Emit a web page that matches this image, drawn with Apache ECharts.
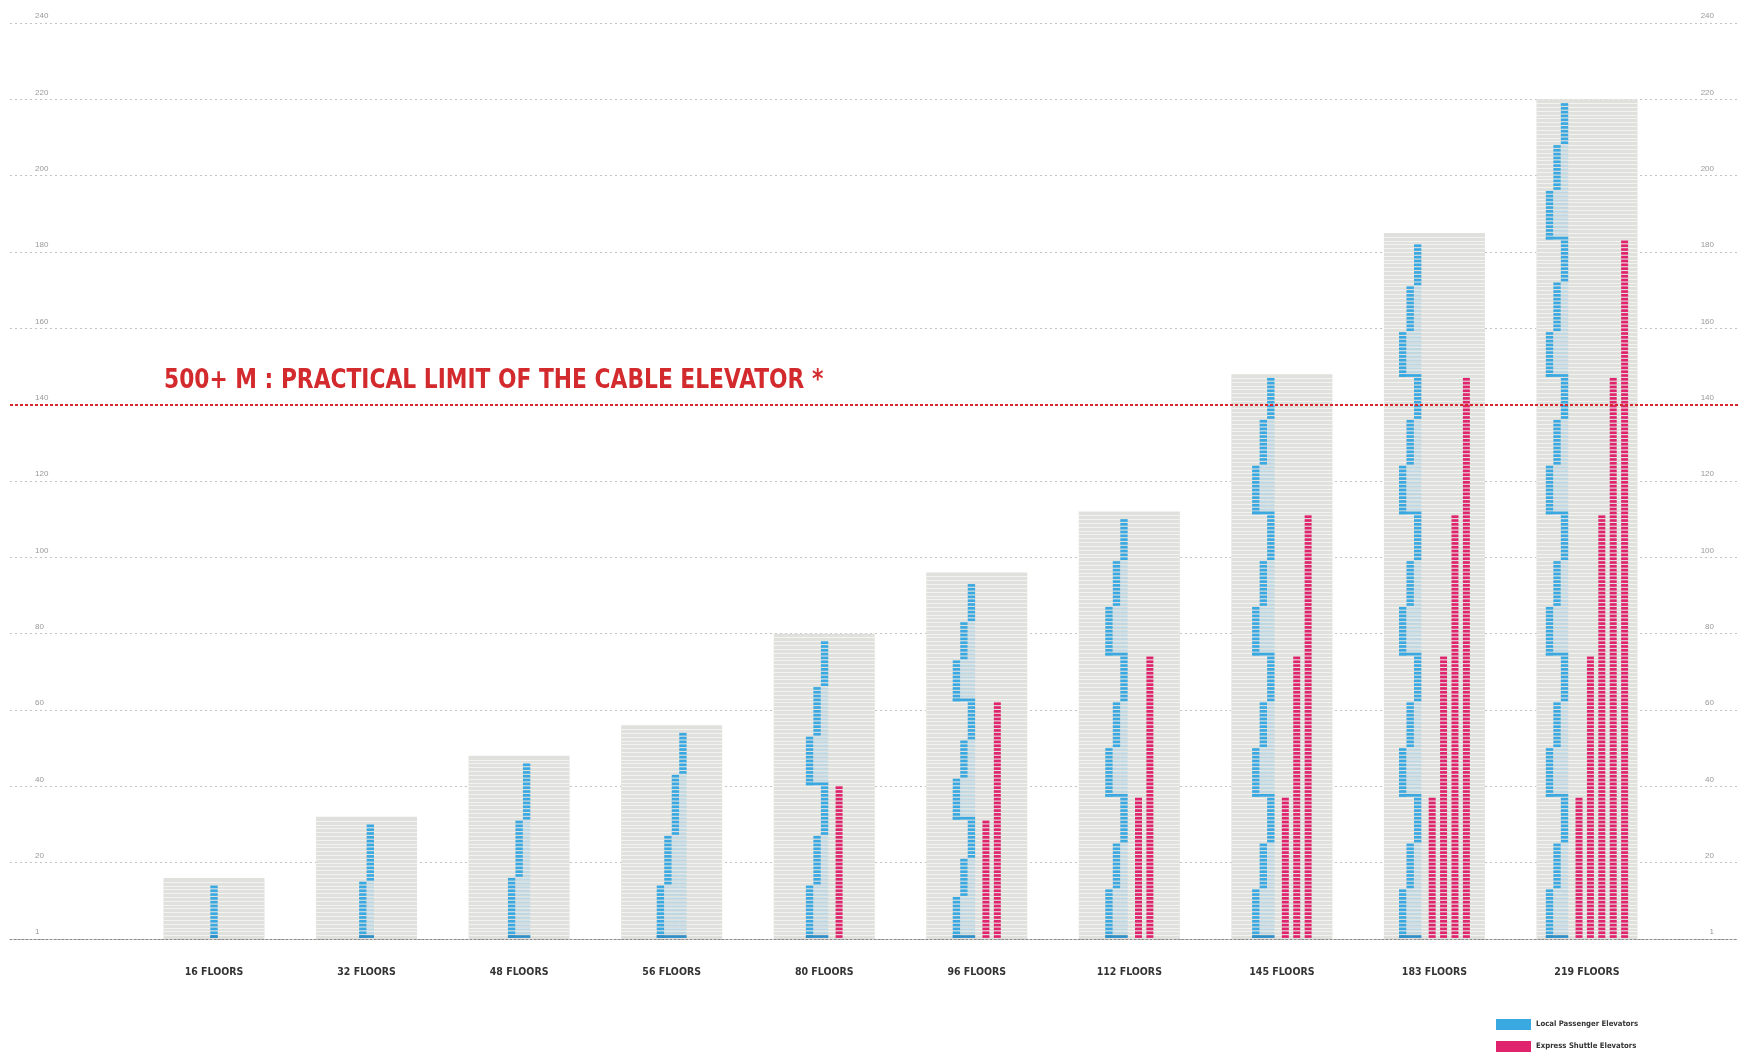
<!DOCTYPE html>
<html><head><meta charset="utf-8">
<script src="https://cdn.jsdelivr.net/npm/echarts@6/dist/echarts.min.js"></script>
<style>html,body{margin:0;padding:0;background:#fff}#c{width:1738px;height:1055px}</style>
</head><body><div id="c"></div>
<script>
// ---------------- data ----------------
const categories = ['16 FLOORS','32 FLOORS','48 FLOORS','56 FLOORS','80 FLOORS','96 FLOORS','112 FLOORS','145 FLOORS','183 FLOORS','219 FLOORS'];
const towerHeights = [16, 32, 48, 56, 80, 96, 112, 148, 185, 220];
// floors where each local-elevator zone starts/ends (per tower)
const localZoneBreaks = [
  [0,14],
  [0,15,30],
  [0,16,31,46],
  [0,14,27,43,54],
  [0,14,27,40,53,66,78],
  [0,11,21,31,42,52,62,73,83,93],
  [0,13,25,37,50,62,74,87,99,110],
  [0,13,25,37,50,62,74,87,99,111,124,136,147],
  [0,13,25,37,50,62,74,87,99,111,124,136,147,159,171,182],
  [0,13,25,37,50,62,74,87,99,111,124,136,147,159,172,183,196,208,219]
];
// shaft lane used by each zone
const localZoneLanes = [
  [0],
  [0,1],
  [0,1,2],
  [0,1,2,3],
  [0,1,2,0,1,2],
  [0,1,2,0,1,2,0,1,2],
  [0,1,2,0,1,2,0,1,2],
  [0,1,2,0,1,2,0,1,2,0,1,2],
  [0,1,2,0,1,2,0,1,2,0,1,2,0,1,2],
  [0,1,2,0,1,2,0,1,2,0,1,2,0,1,2,0,1,2]
];
// top floor reached by each express shuttle (per tower)
const expressShuttleTops = [[],[],[],[],[40],[31,62],[37,74],[37,74,111],[37,74,111,147],[37,74,111,147,183]];
const yTickLabels = ['1','20','40','60','80','100','120','140','160','180','200','220','240'];
const limitFloor = 140;
const limitLabel = '500+ M : PRACTICAL LIMIT OF THE CABLE ELEVATOR *';
const seriesNames = ['Local Passenger Elevators','Express Shuttle Elevators'];

// ---------------- style ----------------
const FONT = "'DejaVu Sans Condensed','Roboto Condensed',Roboto,sans-serif";
const BLUE = '#3aa9e1', BLUE_DARK = '#2f8fc6', BLUE_LIGHT = 'rgba(120,195,235,0.3)';
const PINK = '#df246d';
const TOWER_GRAY = '#e0e0dd', STRIPE = '#f3f3f1';
const BAR_W = 101, LANE_STEP = 7.5, LANE_W = 7.4, PINK_GAP = 14.5, PINK_STEP = 11.4, PINK_W = 7, GAP = 1.1;

function layout(i) {
  const nLanes = Math.max.apply(null, localZoneLanes[i]) + 1;
  const nPink = expressShuttleTops[i].length;
  const lastLane = (nLanes - 1) * LANE_STEP;
  const right = nPink ? lastLane + PINK_GAP + (nPink - 1) * PINK_STEP + PINK_W / 2 : lastLane + LANE_W / 2;
  const left = -LANE_W / 2;
  const shift = -(left + right) / 2;
  return {
    nLanes: nLanes,
    lane: k => shift + k * LANE_STEP,
    pink: k => shift + lastLane + PINK_GAP + k * PINK_STEP
  };
}

function floorRect(api, i, f, x, w, color) {
  const yTop = api.coord([i, f + 1])[1];
  const yBot = api.coord([i, f])[1];
  return { type: 'rect', shape: { x: x, y: yTop, width: w, height: Math.max(0.5, yBot - yTop - GAP) }, style: { fill: color } };
}

function renderTower(params, api) {
  const i = api.value(0), h = api.value(1);
  const base = api.coord([i, 0]), top = api.coord([i, h]);
  const x = base[0] - BAR_W / 2;
  const children = [{ type: 'rect', shape: { x: x, y: top[1], width: BAR_W, height: base[1] - top[1] }, style: { fill: TOWER_GRAY } }];
  for (let f = 1; f < h; f++) {
    const y = Math.round(api.coord([i, f])[1]) + 0.5;
    children.push({ type: 'line', shape: { x1: x, y1: y, x2: x + BAR_W, y2: y }, style: { stroke: STRIPE, lineWidth: 1 } });
  }
  return { type: 'group', children: children };
}

function renderLocal(params, api) {
  const i = api.value(0);
  const L = layout(i);
  const cx = api.coord([i, 0])[0];
  const breaks = localZoneBreaks[i], lanes = localZoneLanes[i];
  const children = [];
  const lobbies = [0];
  let groupStart = 0;
  for (let z = 0; z < lanes.length; z++) {
    const lane = lanes[z], s = breaks[z], e = breaks[z + 1];
    if (lane === 0) { groupStart = s; if (s > 0) lobbies.push(s); }
    const lx = cx + L.lane(lane) - LANE_W / 2;
    if (lane > 0) for (let f = groupStart; f < s; f++) children.push(floorRect(api, i, f, lx, LANE_W, BLUE_LIGHT));
    for (let f = s; f < e; f++) children.push(floorRect(api, i, f, lx, LANE_W, BLUE));
  }
  const x0 = cx + L.lane(0) - LANE_W / 2, x1 = cx + L.lane(L.nLanes - 1) + LANE_W / 2;
  lobbies.forEach(f => children.push(floorRect(api, i, f, x0, x1 - x0, f === 0 ? BLUE_DARK : BLUE)));
  return { type: 'group', children: children };
}

function renderExpress(params, api) {
  const i = api.value(0);
  const L = layout(i);
  const cx = api.coord([i, 0])[0];
  const children = [];
  expressShuttleTops[i].forEach((t, k) => {
    const px = cx + L.pink(k) - PINK_W / 2;
    for (let f = 0; f < t; f++) children.push(floorRect(api, i, f, px, PINK_W, PINK));
  });
  return { type: 'group', children: children };
}

const towerData = categories.map((c, i) => [i, towerHeights[i]]);

const GRID_TOP = 23, GRID_BOTTOM = 116;
const option = {
  animation: false,
  backgroundColor: '#ffffff',
  graphic: [{
    type: 'text', x: 164, y: 381, scaleX: 0.897, z: 20,
    style: { text: limitLabel, fill: '#d32a2e', fontSize: 27, fontWeight: 'bold', fontFamily: FONT, align: 'left', verticalAlign: 'middle' }
  }],
  legend: {
    data: seriesNames, orient: 'vertical', left: 1496, top: 1019, padding: 0,
    icon: 'rect', itemWidth: 35, itemHeight: 11, itemGap: 11,
    textStyle: { fontSize: 7.7, color: '#333', fontFamily: FONT, fontWeight: 'bold' }
  },
  grid: [
    { left: 10, right: 0, top: GRID_TOP, bottom: GRID_BOTTOM },
    { left: 137.75, right: 74.75, top: GRID_TOP, bottom: GRID_BOTTOM }
  ],
  xAxis: [
    { type: 'value', gridIndex: 0, min: 0, max: 1, axisLabel: { show: false }, axisTick: { show: false }, splitLine: { show: false },
      axisLine: { show: true, lineStyle: { color: '#8a8a8a', type: [2, 2], width: 1.2 } } },
    { type: 'category', gridIndex: 1, data: categories, axisLine: { show: false }, axisTick: { show: false },
      axisLabel: { margin: 28, fontSize: 10.5, fontWeight: 'bold', color: '#333', fontFamily: FONT } }
  ],
  yAxis: [
    { type: 'value', gridIndex: 0, position: 'left', min: 0, max: 240, interval: 20,
      axisLine: { show: false }, axisTick: { show: false },
      axisLabel: { inside: true, margin: 25, fontSize: 8, color: '#999', verticalAlign: 'bottom', padding: [0,0,3,0], formatter: v => yTickLabels[v / 20] },
      splitLine: { show: true, lineStyle: { color: '#c4c4c4', type: [2, 3], width: 1 } } },
    { type: 'value', gridIndex: 0, position: 'right', min: 0, max: 240, interval: 20,
      axisLine: { show: false }, axisTick: { show: false }, splitLine: { show: false },
      axisLabel: { inside: true, margin: 24, fontSize: 8, color: '#999', verticalAlign: 'bottom', padding: [0,0,3,0], formatter: v => yTickLabels[v / 20] } },
    { type: 'value', gridIndex: 1, min: 0, max: 240, interval: 20, show: false, splitLine: { show: false } }
  ],
  series: [
    { type: 'custom', name: 'towers', xAxisIndex: 1, yAxisIndex: 2, data: towerData, renderItem: renderTower, z: 2, silent: true },
    { type: 'custom', name: seriesNames[0], xAxisIndex: 1, yAxisIndex: 2, data: towerData, renderItem: renderLocal, itemStyle: { color: BLUE }, z: 3 },
    { type: 'custom', name: seriesNames[1], xAxisIndex: 1, yAxisIndex: 2, data: towerData, renderItem: renderExpress, itemStyle: { color: PINK }, z: 3 },
    { type: 'line', name: 'limit', xAxisIndex: 0, yAxisIndex: 0, data: [], z: 10,
      markLine: { silent: true, symbol: ['none', 'none'], label: { show: false },
        lineStyle: { color: '#d9262c', type: [3, 2], width: 2 },
        data: [{ yAxis: limitFloor }] } }
  ]
};
const chart = echarts.init(document.getElementById('c'), null, { renderer: 'canvas' });
chart.setOption(option);
</script>
</body></html>
